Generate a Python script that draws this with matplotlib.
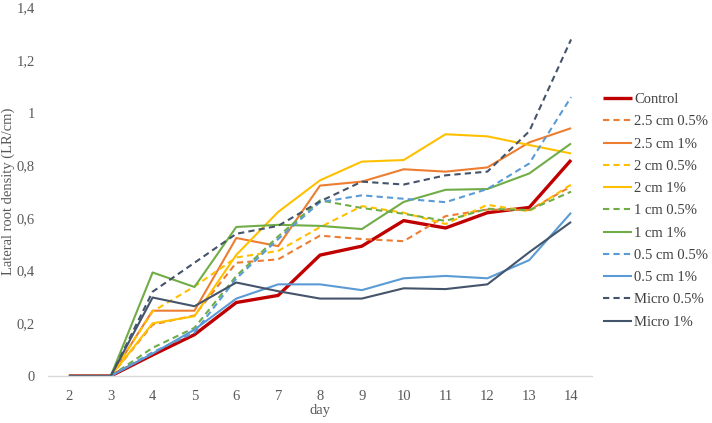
import matplotlib
matplotlib.use("Agg")
import matplotlib.pyplot as plt

days = [2, 3, 4, 5, 6, 7, 8, 9, 10, 11, 12, 13, 14]

control      = [0, 0, 0.08, 0.157, 0.279, 0.306, 0.459, 0.493, 0.59, 0.562, 0.62, 0.64, 0.82]
cm25_05      = [0, 0, 0.195, 0.23, 0.43, 0.443, 0.533, 0.52, 0.512, 0.607, 0.632, 0.63, 0.72]
cm25_1       = [0, 0, 0.248, 0.248, 0.524, 0.493, 0.723, 0.738, 0.785, 0.776, 0.792, 0.887, 0.941]
cm2_05       = [0, 0, 0.245, 0.34, 0.45, 0.475, 0.565, 0.645, 0.62, 0.577, 0.65, 0.625, 0.727]
cm2_1        = [0, 0, 0.2, 0.227, 0.46, 0.623, 0.743, 0.814, 0.82, 0.918, 0.91, 0.877, 0.845]
cm1_05       = [0, 0, 0.107, 0.183, 0.38, 0.53, 0.667, 0.638, 0.616, 0.589, 0.635, 0.63, 0.70]
cm1_1        = [0, 0, 0.393, 0.338, 0.566, 0.574, 0.57, 0.558, 0.661, 0.707, 0.71, 0.769, 0.883]
cm05_05      = [0, 0, 0.09, 0.165, 0.37, 0.52, 0.66, 0.686, 0.673, 0.66, 0.71, 0.807, 1.059]
cm05_1       = [0, 0, 0.085, 0.176, 0.294, 0.348, 0.348, 0.326, 0.371, 0.38, 0.371, 0.44, 0.62]
micro_05     = [0, 0, 0.32, 0.43, 0.54, 0.57, 0.663, 0.738, 0.727, 0.762, 0.776, 0.929, 1.278]
micro_1      = [0, 0, 0.298, 0.265, 0.355, 0.322, 0.294, 0.294, 0.333, 0.33, 0.348, 0.47, 0.585]

labels = ["Control", "2.5 cm 0.5%", "2.5 cm 1%", "2 cm 0.5%", "2 cm 1%",
          "1 cm 0.5%", "1 cm 1%", "0.5 cm 0.5%", "0.5 cm 1%", "Micro 0.5%", "Micro 1%"]
series = [control, cm25_05, cm25_1, cm2_05, cm2_1, cm1_05, cm1_1, cm05_05, cm05_1, micro_05, micro_1]
colors = ["#C00000", "#ED7D31", "#ED7D31", "#FFC000", "#FFC000", "#70AD47", "#70AD47",
          "#5B9BD5", "#5B9BD5", "#44546A", "#44546A"]
dashed = [False, True, False, True, False, True, False, True, False, True, False]

yticks = [0, 0.2, 0.4, 0.6, 0.8, 1.0, 1.2, 1.4]
ytick_labels = ["0", "0,2", "0,4", "0,6", "0,8", "1", "1,2", "1,4"]

plt.rcParams['font.family'] = ['Liberation Serif', 'DejaVu Serif']

fig = plt.figure(figsize=(7.12, 4.23), dpi=100)
ax = fig.add_axes([48/712, 47/423, 544/712, 368.7/423])

for s, lab, c, d in zip(series, labels, colors, dashed):
    lw = 2.4 if lab == "Control" else 1.5
    ls = (0, (3, 2)) if d else '-'
    ax.plot(days, s, color=c, lw=lw, linestyle=ls, label=lab, solid_capstyle='butt')

ax.set_xlim(1.5, 14.5)
ax.set_ylim(0, 1.4)
ax.set_xticks(days)
ax.set_xticklabels([str(d) for d in days])
ax.set_yticks(yticks)
ax.set_yticklabels(ytick_labels)
for sp in ['top', 'right', 'left']:
    ax.spines[sp].set_visible(False)
ax.spines['bottom'].set_color('#D9D9D9')
ax.spines['bottom'].set_linewidth(1.0)
ax.tick_params(axis='both', length=0, labelsize=10.5, colors='#595959')
ax.tick_params(axis='x', pad=10)
ax.tick_params(axis='y', pad=9.5)

ax.set_xlabel("day", fontsize=10.5, color='#595959', labelpad=1)
ax.set_ylabel("Lateral root density (LR/cm)", fontsize=10.5, color='#595959')
ax.yaxis.set_label_coords(-0.061, 0.5)

leg = fig.legend(loc='upper left', bbox_to_anchor=(603/712, 1 - 93/423), frameon=False,
                 fontsize=10.5, handlelength=2.0, handletextpad=0.15, labelspacing=0.62,
                 borderaxespad=0, borderpad=0)
for t in leg.get_texts():
    t.set_color('#404040')

fig.savefig("out.png", dpi=100)
